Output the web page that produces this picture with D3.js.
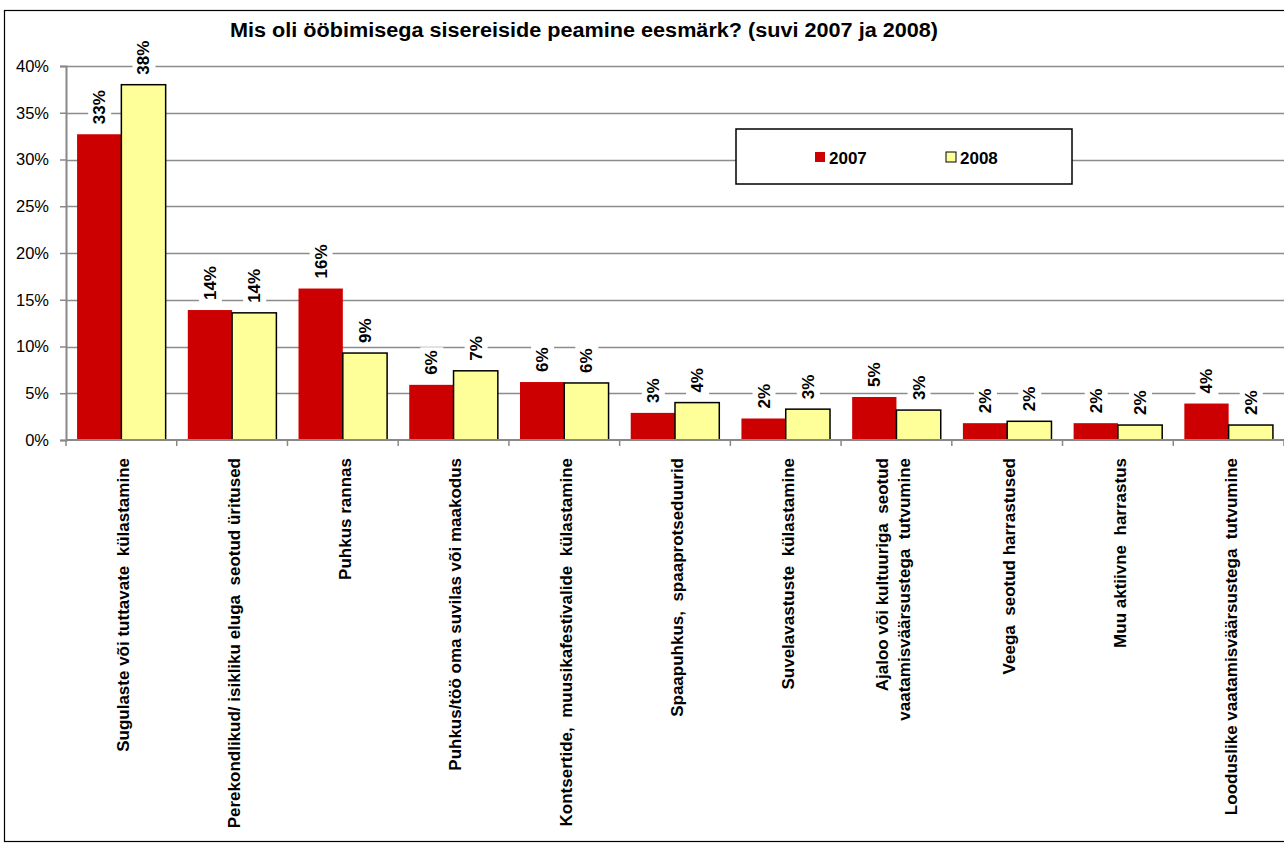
<!DOCTYPE html>
<html>
<head>
<meta charset="utf-8">
<script src="https://cdn.jsdelivr.net/npm/d3@7"></script>
<style>
  html, body { margin: 0; padding: 0; background: #fff; }
  svg { display: block; font-family: "Liberation Sans", Arial, sans-serif; }
</style>
</head>
<body>
<svg id="chart" width="1284" height="844"></svg>
<script>
const title = "Mis oli ööbimisega sisereiside peamine eesmärk? (suvi 2007 ja 2008)";
const categories = [
  ["Sugulaste või tuttavate  külastamine"],
  ["Perekondlikud/ isikliku eluga  seotud üritused"],
  ["Puhkus rannas"],
  ["Puhkus/töö oma suvilas või maakodus"],
  ["Kontsertide,  muusikafestivalide  külastamine"],
  ["Spaapuhkus,  spaaprotseduurid"],
  ["Suvelavastuste  külastamine"],
  ["Ajaloo või kultuuriga  seotud", "vaatamisväärsustega  tutvumine"],
  ["Veega  seotud harrastused"],
  ["Muu aktiivne  harrastus"],
  ["Looduslike vaatamisväärsustega  tutvumine"]
];
const seriesNames = ["2007", "2008"];
const values2007 = [0.327, 0.139, 0.162, 0.059, 0.062, 0.029, 0.023, 0.046, 0.018, 0.018, 0.039];
const values2008 = [0.380, 0.136, 0.093, 0.074, 0.061, 0.040, 0.033, 0.032, 0.020, 0.016, 0.016];
const yTicks = [0, 0.05, 0.10, 0.15, 0.20, 0.25, 0.30, 0.35, 0.40];
const colors = { "2007": "#CC0000", "2008": "#FFFF99" };

(function () {
const svg = d3.select("#chart");
const FONT = "'Liberation Sans', Arial, sans-serif";

// outer frame
svg.append("rect").attr("x", 4.5).attr("y", 10.5).attr("width", 1300).attr("height", 831)
  .attr("fill", "#fff").attr("stroke", "#000").attr("stroke-width", 1.2);

const pLeft = 66, pRight = 1284, pTop = 66, pBottom = 440;
const catIds = categories.map((c, i) => i);
const x = d3.scaleBand().domain(catIds).range([pLeft, pRight]).paddingInner(0.2).paddingOuter(0.1);
const x1 = d3.scaleBand().domain(seriesNames).range([0, x.bandwidth()]).padding(0);
const y = d3.scaleLinear().domain([0, 0.4]).range([pBottom, pTop]);

// gridlines
svg.append("g").selectAll("line").data(yTicks.slice(1)).join("line")
  .attr("x1", pLeft).attr("x2", pRight)
  .attr("y1", d => Math.round(y(d)) + 0.5).attr("y2", d => Math.round(y(d)) + 0.5)
  .attr("stroke", "#8c8c8c").attr("stroke-width", 1.3);

// y axis
const yAxis = d3.axisLeft(y).tickValues(yTicks).tickFormat(d3.format(".0%")).tickSize(6).tickPadding(11);
const gy = svg.append("g").attr("transform", `translate(${pLeft},0)`).call(yAxis);
gy.select(".domain").attr("stroke", "#888").attr("stroke-width", 2);
gy.selectAll(".tick line").attr("stroke", "#888").attr("stroke-width", 1.5);
gy.selectAll(".tick text").attr("font-family", FONT).attr("font-size", 16.5).attr("fill", "#000");

// bars
const data = categories.map((c, i) => ({ i, v: { "2007": values2007[i], "2008": values2008[i] } }));
const groups = svg.append("g").selectAll("g").data(data).join("g")
  .attr("transform", d => `translate(${x(d.i)},0)`);

groups.selectAll("rect").data(d => seriesNames.map(s => ({ s, v: d.v[s] }))).join("rect")
  .attr("x", d => x1(d.s))
  .attr("y", d => y(d.v))
  .attr("width", x1.bandwidth())
  .attr("height", d => y(0) - y(d.v))
  .attr("fill", d => colors[d.s])
  .attr("stroke", d => d.s === "2008" ? "#000" : "none")
  .attr("stroke-width", 1.5);

// data labels
const fmt = d3.format(".0%");
groups.each(function(d) {
  const g = d3.select(this);
  seriesNames.forEach(s => {
    const cx = x1(s) + x1.bandwidth() / 2;
    const yTop = y(d.v[s]) - 10;
    const lg = g.append("g").attr("transform", `translate(${cx},${yTop}) rotate(-90)`);
    const bg = lg.append("rect").attr("fill", "#fff");
    const t = lg.append("text").text(fmt(d.v[s]))
      .attr("font-family", FONT).attr("font-size", 17).attr("font-weight", "bold")
      .attr("text-anchor", "start").attr("dy", "0.35em").attr("fill", "#000");
    const bb = t.node().getBBox();
    bg.attr("x", bb.x - 3).attr("y", bb.y - 2).attr("width", bb.width + 6).attr("height", bb.height + 4);
  });
});

// x axis
svg.append("line").attr("x1", pLeft).attr("x2", pRight).attr("y1", pBottom).attr("y2", pBottom)
  .attr("stroke", "#888").attr("stroke-width", 2);
const boundaries = d3.range(categories.length + 1).map(i => pLeft + i * x.step());
svg.append("g").selectAll("line").data(boundaries).join("line")
  .attr("x1", d => d).attr("x2", d => d).attr("y1", pBottom).attr("y2", pBottom + 6)
  .attr("stroke", "#888").attr("stroke-width", 1.5);

// category labels
const lineH = 22;
categories.forEach((lines, i) => {
  const cx = x(i) + x.bandwidth() / 2 + 2;
  const t = svg.append("text")
    .attr("transform", `translate(${cx},458) rotate(-90)`)
    .attr("text-anchor", "end")
    .attr("font-family", FONT).attr("font-size", 17).attr("font-weight", "bold")
    .attr("fill", "#000").style("white-space", "pre");
  const off = -(lines.length - 1) * lineH / 2 - (lines.length - 1) * 5;
  lines.forEach((ln, k) => {
    t.append("tspan").attr("x", 0).attr("y", off + k * lineH).attr("dy", "0.35em").text(ln);
  });
});

// legend
svg.append("rect").attr("x", 736).attr("y", 129).attr("width", 336).attr("height", 55)
  .attr("fill", "#fff").attr("stroke", "#000").attr("stroke-width", 1.5);
const legendX = { "2007": 815, "2008": 946 };
seriesNames.forEach(s => {
  svg.append("rect").attr("x", legendX[s]).attr("y", 152).attr("width", 10).attr("height", 10)
    .attr("fill", colors[s]).attr("stroke", s === "2008" ? "#000" : "none").attr("stroke-width", 1);
  svg.append("text").attr("x", legendX[s] + 14).attr("y", 163.5).text(s)
    .attr("font-family", FONT).attr("font-size", 17).attr("font-weight", "bold").attr("fill", "#000");
});

// title
svg.append("text").attr("x", 584).attr("y", 37).attr("text-anchor", "middle").text(title)
  .attr("font-family", FONT).attr("font-size", 20).attr("font-weight", "bold").attr("fill", "#000")
  .attr("textLength", 708).attr("lengthAdjust", "spacingAndGlyphs");
})();
</script>
</body>
</html>
